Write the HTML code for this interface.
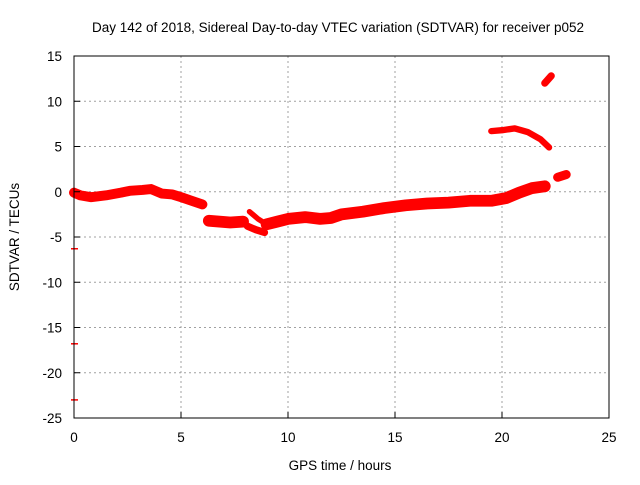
<!DOCTYPE html>
<html><head><meta charset="utf-8"><style>
body{margin:0;background:#fff}
svg text{font-family:"Liberation Sans",sans-serif;font-size:13.5px;fill:#000}
</style></head><body>
<svg id="chart" width="640" height="480" xmlns="http://www.w3.org/2000/svg">
<text x="338" y="32" text-anchor="middle">Day 142 of 2018, Sidereal Day-to-day VTEC variation (SDTVAR) for receiver p052</text>
<text x="340" y="470" text-anchor="middle">GPS time / hours</text>
<text transform="translate(19,237) rotate(-90)" text-anchor="middle">SDTVAR / TECUs</text>
<g id="grid"></g><g id="marks"></g><g id="axes"></g>
</svg>
<script>
const xTicks=[0,5,10,15,20,25];
const yTicks=[15,10,5,0,-5,-10,-15,-20,-25];
// segments: times and values
const segTimes=[
 [0,0.3,0.8,1.5,2.2,2.6,3.2,3.6,4.1,4.6,5.0,5.5,6.0],
 [6.3,6.8,7.3,7.9],
 [8.2,8.6,9.0],
 [8.1,8.5,8.9],
 [9.0,9.5,10.0,10.8,11.5,12.0,12.5,13.5,14.5,15.5,16.5,17.5,18.5,19.5,20.2,20.8,21.4,22.0],
 [19.5,20.0,20.6,21.2,21.8,22.2],
 [22.0,22.3],
 [22.6,23.0]
];
const segValues=[
 [-0.1,-0.4,-0.6,-0.4,-0.1,0.1,0.2,0.3,-0.2,-0.3,-0.6,-1.0,-1.4],
 [-3.2,-3.3,-3.4,-3.3],
 [-2.2,-3.0,-3.6],
 [-3.8,-4.2,-4.5],
 [-3.6,-3.3,-3.0,-2.8,-3.0,-2.9,-2.5,-2.2,-1.8,-1.5,-1.3,-1.2,-1.0,-1.0,-0.7,-0.1,0.4,0.6],
 [6.7,6.8,7.0,6.6,5.8,4.9],
 [12.0,12.8],
 [1.6,1.9]
];
const segThick=[1.1,1.3,0.6,0.8,1.3,0.7,0.8,1.0];
const outTimes=[0,0,0];
const outValues=[-6.3,-16.8,-23];
const L=74,R=609,T=56,B=418;
const X=v=>L+(v-0)/25*(R-L);
const Y=v=>T+(15-v)/40*(B-T);
const NS="http://www.w3.org/2000/svg";
function mk(p,t,a){const e=document.createElementNS(NS,t);for(const k in a)e.setAttribute(k,a[k]);p.appendChild(e);return e;}
const g=document.getElementById('grid'),m=document.getElementById('marks'),ax=document.getElementById('axes');
xTicks.forEach(t=>{
 if(t>0&&t<25){const l=mk(g,'line',{x1:X(t),x2:X(t),y1:T,y2:B,stroke:'#a0a0a0','stroke-dasharray':'2,3'});
 
 }
 const tl=mk(ax,'line',{x1:X(t),x2:X(t),y1:B,y2:B-6,stroke:'#000'});
 
 
 const tx=mk(ax,'text',{x:X(t),y:B+24,'text-anchor':'middle'});tx.textContent=t;
 
 
});
yTicks.forEach(t=>{
 if(t<15&&t>-25){const l=mk(g,'line',{x1:L,x2:R,y1:Y(t),y2:Y(t),stroke:'#a0a0a0','stroke-dasharray':'2,3'});
 
 }
 const tl=mk(ax,'line',{x1:L,x2:L+6,y1:Y(t),y2:Y(t),stroke:'#000'});
 
 
 const tx=mk(ax,'text',{x:L-12,y:Y(t)+5,'text-anchor':'end'});tx.textContent=t;
 
 
});
const box=mk(ax,'rect',{x:L,y:T,width:R-L,height:B-T,fill:'none',stroke:'#000'});


segTimes.forEach((ts,i)=>{
 const pts=ts.map((t,j)=>X(t)+','+Y(segValues[i][j])).join(' ');
 const pl=mk(m,'polyline',{points:pts,fill:'none',stroke:'#f00','stroke-width':segThick[i]*9.05,'stroke-linejoin':'round','stroke-linecap':'round'});
 
 
});
outTimes.forEach((t,i)=>{
 const l=mk(m,'line',{x1:X(t)-3,x2:X(t)+4,y1:Y(outValues[i]),y2:Y(outValues[i]),stroke:'#f00','stroke-width':1.5});
 
 
});
</script>
</body></html>
